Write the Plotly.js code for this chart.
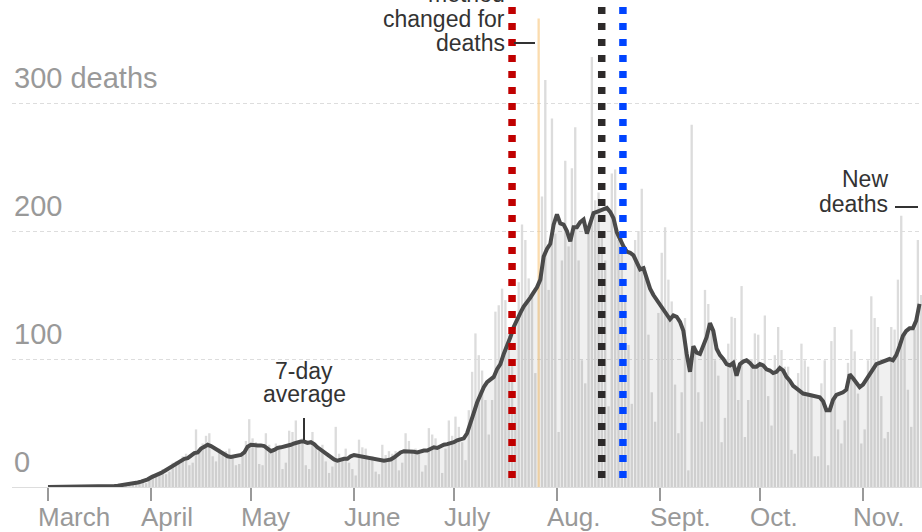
<!DOCTYPE html>
<html><head><meta charset="utf-8">
<script src="https://cdn.plot.ly/plotly-3.0.1.min.js"></script>
<style>html,body{margin:0;padding:0;background:#fff;} #chart{width:922px;height:532px;}</style>
</head><body><div id="chart"></div>
<script>
// ---- data ----
const startYear = 2020, startMonth = 2, startDay = 1; // March 1, 2020
const dailyDeaths = [
 0,0,0,0,0,0,0,0,0,0,
 0,0,0,0,0,0,1,0,1,0,
 2,1,0,3,3,4,2,5,6,3,
 7,10,9,11,14,10,12,19,20,18,
 24,26,17,19,45,28,34,40,42,24,
 20,30,26,28,30,25,17,18,26,36,
 53,38,35,18,17,42,33,30,34,29,
 14,19,44,43,52,36,38,17,14,43,
 34,28,33,20,11,16,47,26,22,30,
 19,14,9,37,31,30,22,24,12,10,
 33,25,28,26,28,13,19,42,36,29,
 30,26,12,17,46,41,38,33,11,30,
 52,40,55,47,35,21,60,90,120,103,
 91,68,41,68,137,142,155,146,120,95,
 62,160,205,193,163,151,89,366,227,318,
 154,288,198,43,177,255,188,249,281,177,
 99,81,203,336,224,230,200,177,63,245,
 248,193,196,150,111,65,193,200,233,172,
 119,74,51,136,183,203,162,145,80,42,
 74,132,13,283,110,74,51,154,143,125,
 99,87,35,54,112,133,132,68,157,39,
 68,100,120,119,97,134,71,48,103,125,
 107,94,94,29,26,89,112,99,94,73,
 24,24,81,99,17,114,125,45,34,52,
 97,123,106,73,34,45,99,149,132,125,
 71,38,43,125,123,162,212,120,76,47,
 123,193,150
];
const avg7 = [
 0,0,0,0,0,0,0,0,0,0,
 0,0,0,0,0,0,0.1,0.2,0.3,0.5,
 0.7,1,1.3,1.6,2,2.4,2.9,3.5,4.2,5,
 6,7.5,8.5,9.5,11,12.5,14,15.5,17,18.5,
 20,22,22.5,25,26.5,27,30,31.5,33,32,
 30.5,29,27,25.5,24,23.5,24,24,25,27,
 31.5,33,32.5,32.5,32.5,32,30,28,29,30.5,
 31,31.5,32,33,34,35,35.5,35.5,34.5,35,
 33.5,31,29,27,25,23,21.5,20.5,21.5,22,
 22,24,25,24.5,24.5,24,23.5,23,22.5,21.5,
 21,20.5,21,21.5,23,25,27,28,28,27.5,
 27.5,27,28,28.5,28.5,30,31,30.5,32,33,
 33.5,34,35,36.5,37.5,38,42,49,58,66,
 72,78,82,84,86,92,96,104,110,117,
 125,131,136,141,144,148,152,156,162,180,
 186,190,205,213,206,205,200,192,203,203,
 207,209,198,205,214,215,216,217,218,215,
 210,199,193,188,184,183,181,176,170,171,
 162,155,150,146,143,139,135,131,134,133,
 129,122,104,90,110,105,104,110,117,128,
 122,108,103,100,96,95,97,87,96,98,
 99,97,94,94,96,95,92,91,89,90,
 93,91,86,83,79,77,75,73,72.5,72,
 71.5,71,70,67,60,60,68,72,73,74,
 76,88,85,81,78,80,84,88,92,96,
 97,98,99,100,99,103,110,118,122,124,
 124,130,143
];
const highlightIndex = 147; // day the reporting method changed
const monthTicks = ["2020-03-01","2020-04-01","2020-05-01","2020-06-01","2020-07-01","2020-08-01","2020-09-01","2020-10-01","2020-11-01"];
const monthLabels = ["March","April","May","June","July","Aug.","Sept.","Oct.","Nov."];
const yTickVals = [0,100,200,300];
const yTickLabels = ["0","100","200","300 deaths"];
const markerLines = [
 {date:"2020-07-18 12:00", color:"#c00000"},
 {date:"2020-08-14 11:00", color:"#2d2a2a"},
 {date:"2020-08-20 20:00", color:"#0044ff"}
];

// ---- build ----
function dayStr(i){ const d=new Date(Date.UTC(startYear,startMonth,startDay+i)); return d.toISOString().slice(0,10); }
const lineX = avg7.map((_,i)=>dayStr(i));
const barX = dailyDeaths.map((_,i)=>dayStr(i)+" 12:00");
const barColors = dailyDeaths.map((_,i)=> i===highlightIndex ? "rgba(250,205,140,0.7)" : "#dcdcdc");

const W=922,H=532,L=12,R=0,T=0,B=45;
const plotW=W-L-R, plotH=H-T-B;
const YMAX = 380.5;
const px = x => (x-L)/plotW;
const py = y => (H-B-y)/plotH;

const FONT = "Liberation Sans, Arial, sans-serif";
const annotations = [];
yTickVals.forEach((v,i)=>annotations.push({
  xref:'paper', yref:'y', x:0, y:v, xanchor:'left', yanchor:'bottom', yshift:7,
  text:yTickLabels[i], showarrow:false, font:{family:FONT,size:29,color:'#999'}
}));
monthTicks.forEach((m,i)=>annotations.push({
  xref:'x', yref:'paper', x:m, y:py(527+0.22*26+1), xanchor:'left', yanchor:'bottom', xshift:-12,
  text:monthLabels[i], showarrow:false, font:{family:FONT,size:26,color:'#999'}
}));
function note(text, x, baseline, anchor, size){
  annotations.push({xref:'paper', yref:'paper', x:px(x), y:py(baseline+0.22*size+1),
    xanchor:anchor, yanchor:'bottom', text:text, showarrow:false,
    font:{family:FONT,size:size,color:'#333'}});
}
note("method", 507, 3, 'right', 23);
note("changed for", 507, 28, 'right', 23);
note("deaths", 507, 52, 'right', 23);
note("7-day", 304, 380, 'center', 23);
note("average", 304, 403, 'center', 23);
note("New", 890, 188, 'right', 23);
note("deaths", 890, 213, 'right', 23);

const shapes = [];
markerLines.forEach(m=>shapes.push({
  type:'line', xref:'x', yref:'y', x0:m.date, x1:m.date, y0:(H-B+9)/(plotH/YMAX), y1:0,
  line:{color:m.color, width:7.5, dash:'7px,9px'}, layer:'above'
}));
function seg(x0,y0,x1,y1){ shapes.push({type:'line', xref:'paper', yref:'paper', x0:px(x0), y0:py(y0), x1:px(x1), y1:py(y1), line:{color:'#333', width:2}}); }
seg(514,43,535,43);
seg(304,418,304,440);
seg(895,207,918,207);

const traces = [
 {type:'bar', x:barX, y:dailyDeaths, marker:{color:barColors, line:{width:0}}, hoverinfo:'skip'},
 {type:'scatter', mode:'lines', x:lineX, y:avg7, line:{color:'#4a4a4a', width:4},
  fill:'tozeroy', fillcolor:'rgba(0,0,0,0.06)', hoverinfo:'skip'}
];
const layout = {
  width:W, height:H, margin:{l:L,r:R,t:T,b:B}, paper_bgcolor:'#fff', plot_bgcolor:'#fff',
  showlegend:false, bargap:0.3,
  xaxis:{type:'date', range:["2020-02-19 04:19","2020-11-18 17:45"], tickvals:monthTicks, ticktext:monthLabels,
    showticklabels:false, ticks:'outside', ticklen:13, tickcolor:'#999', tickwidth:1.5, showgrid:false, showline:true,
    linecolor:'#ddd', linewidth:1, zeroline:false},
  yaxis:{range:[0,YMAX], tickvals:[100,200,300], showticklabels:false, showgrid:true, gridcolor:'#ddd',
    griddash:'4px,3px', zeroline:false, showline:false, ticks:''},
  shapes:shapes, annotations:annotations
};
Plotly.newPlot('chart', traces, layout, {displayModeBar:false, staticPlot:true});
</script></body></html>
